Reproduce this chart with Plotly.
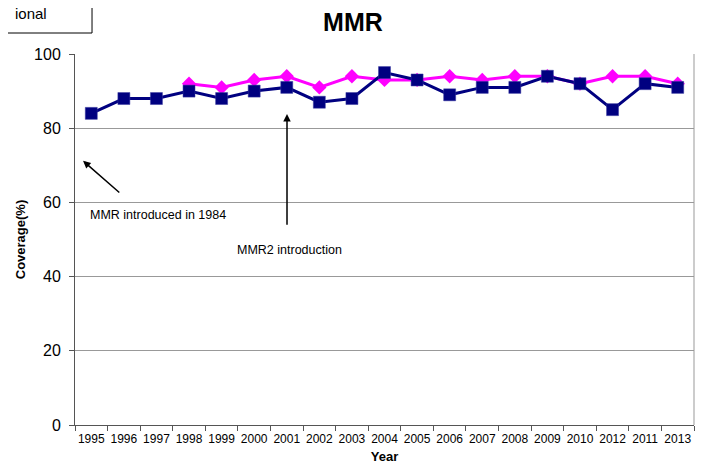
import plotly.graph_objects as go

years = ["1995", "1996", "1997", "1998", "1999", "2000", "2001", "2002", "2003",
         "2004", "2005", "2006", "2007", "2008", "2009", "2010", "2012", "2011", "2013"]
regional = [84, 88, 88, 90, 88, 90, 91, 87, 88, 95, 93, 89, 91, 91, 94, 92, 85, 92, 91]
national = [None, None, None, 92, 91, 93, 94, 91, 94, 93, 93, 94, 93, 94, 94, 92, 94, 94, 92]
y_ticks = [0, 20, 40, 60, 80, 100]

FONT = "Liberation Sans, Arial, sans-serif"

fig = go.Figure()
fig.add_trace(go.Scatter(
    x=years, y=national, mode="lines+markers", name="National",
    line=dict(color="#FF00FF", width=3),
    marker=dict(symbol="diamond", size=11, color="#FF00FF"),
    connectgaps=False,
))
fig.add_trace(go.Scatter(
    x=years, y=regional, mode="lines+markers", name="Regional",
    line=dict(color="#000080", width=3),
    marker=dict(symbol="square", size=12, color="#000080",
                line=dict(color="#3a3aa0", width=0.5)),
))

# page body has an 8px margin, so the figure is sized/offset to compensate
fig.update_layout(
    width=696, height=458,
    margin=dict(l=67, r=10, t=46, b=41, autoexpand=False),
    paper_bgcolor="white", plot_bgcolor="white",
    showlegend=False,
    font=dict(family=FONT, color="black"),
    title=dict(text="<b>MMR</b>", xref="paper", yref="container",
               x=0.449, xanchor="center", y=0.969, yanchor="middle",
               font=dict(size=25, family=FONT, color="black")),
)
fig.update_xaxes(
    type="category", categoryorder="array", categoryarray=years,
    range=[-0.5, len(years) - 0.5],
    tickmode="array", tickvals=years, ticktext=years,
    tickson="boundaries", ticks="outside", ticklen=5, tickcolor="#555",
    showline=True, linecolor="#555", linewidth=1, mirror=False,
    showgrid=False, tickfont=dict(size=12, family=FONT), tickangle=0,
    ticklabelstandoff=3, automargin=False,
    title=dict(text="<b>Year</b>", font=dict(size=13, family=FONT), standoff=6),
)
fig.update_yaxes(
    range=[0, 100], tickvals=y_ticks, ticks="outside", ticklen=5, tickcolor="#555",
    showline=True, linecolor="#555", linewidth=1,
    showgrid=True, gridcolor="#999", gridwidth=1, zeroline=False,
    tickfont=dict(size=16, family=FONT), ticklabelstandoff=5, automargin=False,
    title=dict(text="<b>Coverage(%)</b>", font=dict(size=13, family=FONT), standoff=5),
)

# right border of plot area
fig.add_shape(type="line", xref="paper", yref="paper", x0=1, x1=1, y0=0, y1=1,
              line=dict(color="#999", width=1))

# arrows
fig.add_annotation(xref="x domain", yref="y domain", axref="x domain", ayref="y domain",
                   x=0.013, y=0.712, ax=0.074, ay=0.623, text="", showarrow=True,
                   arrowhead=2, arrowsize=1, arrowwidth=1.5, arrowcolor="black")
fig.add_annotation(xref="x domain", yref="y domain", axref="x domain", ayref="y domain",
                   x=0.3425, y=0.838, ax=0.3425, ay=0.536, text="", showarrow=True,
                   arrowhead=2, arrowsize=1, arrowwidth=1.5, arrowcolor="black")
fig.add_annotation(xref="x domain", yref="y domain", x=0.021, y=0.566,
                   xanchor="left", yanchor="middle", showarrow=False,
                   text="MMR introduced in 1984", font=dict(size=12.5, family=FONT))
fig.add_annotation(xref="x domain", yref="y domain", x=0.2585, y=0.4717,
                   xanchor="left", yanchor="middle", showarrow=False,
                   text="MMR2 introduction", font=dict(size=12.5, family=FONT))

# cut-off legend box in the top-left corner
fig.add_shape(type="rect", xref="paper", yref="paper",
              x0=-0.124, x1=0.0275, y0=1.0566, y1=1.159,
              line=dict(color="black", width=1), fillcolor="white")
fig.add_annotation(xref="paper", yref="paper", x=-0.1, y=1.11,
                   xanchor="left", yanchor="middle", showarrow=False,
                   text="ional", font=dict(size=15, family=FONT))

fig.write_html("out.html")
